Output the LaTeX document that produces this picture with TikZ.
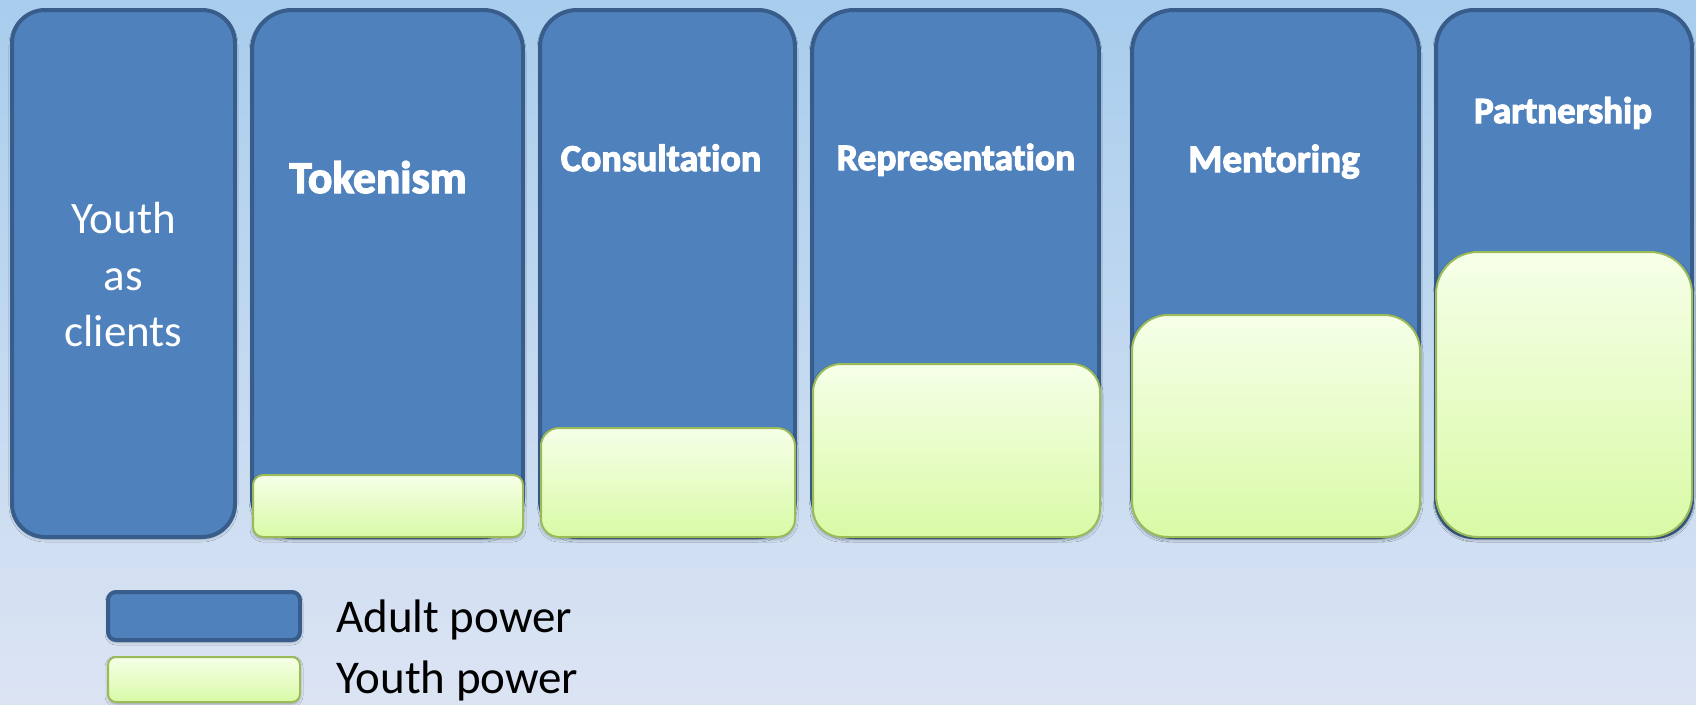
\documentclass[tikz,border=0pt]{standalone}
\usepackage{fontspec}
\setmainfont{Carlito}[Ligatures=NoCommon]
\newfontfamily\titlefont{Carlito}[Ligatures=NoCommon,BoldFeatures={FakeBold=3}]
\usetikzlibrary{shadows.blur}

\definecolor{adultblue}{RGB}{79,129,189}
\definecolor{adultedge}{RGB}{56,93,138}
\definecolor{youthtop}{RGB}{246,255,232}
\definecolor{youthbot}{RGB}{217,250,166}
\definecolor{youthedge}{RGB}{155,187,89}
\definecolor{bgtop}{RGB}{168,205,237}
\definecolor{bgmid}{RGB}{203,216,240}
\definecolor{bgbot}{RGB}{220,228,243}

\begin{document}
\begin{tikzpicture}[x=1pt,y=1pt,
    adult/.style={draw=adultedge,line width=4pt,fill=adultblue,anchor=north west,inner sep=0pt,
        blur shadow={shadow xshift=0pt,shadow yshift=-2pt,shadow blur radius=3pt,shadow opacity=30}},
    youth/.style={draw=youthedge,line width=2pt,top color=youthtop,bottom color=youthbot,anchor=south west,inner sep=0pt,
        blur shadow={shadow xshift=0pt,shadow yshift=-2pt,shadow blur radius=3pt,shadow opacity=30}},
    title/.style={text=white,anchor=base,inner sep=0pt},
    legendtext/.style={text=black,anchor=base west,inner sep=0pt,font=\fontsize{47}{56}\selectfont}]
        \useasboundingbox (0,0) rectangle (1696,-704);
        \shade[top color=bgtop,middle color=bgmid,bottom color=bgbot] (0,0) rectangle (1696,-704);
        % adult power columns
        \node[adult,minimum width=223,minimum height=527,rounded corners=33] (clients) at (10,-8) {};
        \node[adult,minimum width=271,minimum height=527,rounded corners=40] (tokenism) at (250,-8) {};
        \node[adult,minimum width=255,minimum height=527,rounded corners=37] (consultation) at (538,-8) {};
        \node[adult,minimum width=287,minimum height=527,rounded corners=42] (representation) at (810,-8) {};
        \node[adult,minimum width=287,minimum height=527,rounded corners=42] (mentoring) at (1130,-8) {};
        \node[adult,minimum width=256,minimum height=527,rounded corners=38] (partnership) at (1434,-8) {};
        % youth power parts
        \node[youth,minimum width=270,minimum height=62,rounded corners=10] (tokenismY) at (252,-538) {};
        \node[youth,minimum width=254,minimum height=109,rounded corners=18] (consultationY) at (540,-538) {};
        \node[youth,minimum width=287,minimum height=173,rounded corners=28] (representationY) at (812,-538) {};
        \node[youth,minimum width=288,minimum height=222,rounded corners=36] (mentoringY) at (1131,-538) {};
        \node[youth,minimum width=256,minimum height=285,rounded corners=42] (partnershipY) at (1435,-538) {};
        % labels
        \node[text=white,align=center,font=\fontsize{45}{56.5}\selectfont] (clientsL) at (123.5,-275) {Youth\\as\\clients};
        \node[title,font=\fontsize{45.5}{50}\titlefont\bfseries] (tokenismL) at (378,-193) {Tokenism};
        \node[title,font=\fontsize{38}{44}\titlefont\bfseries] (consultationL) at (661,-171) {Consultation};
        \node[title,font=\fontsize{37.5}{44}\titlefont\bfseries] (representationL) at (956,-170) {Representation};
        \node[title,font=\fontsize{39}{44}\titlefont\bfseries] (mentoringL) at (1274,-172) {Mentoring};
        \node[title,font=\fontsize{37}{44}\titlefont\bfseries] (partnershipL) at (1563,-123) {Partnership};
        % legend
        \node[adult,minimum width=192,minimum height=48,rounded corners=8] (adultkey) at (106,-590) {};
        \node[youth,anchor=north west,minimum width=192,minimum height=45,rounded corners=8] (youthkey) at (107,-656) {};
        \node[legendtext] (adultkeyL) at (336,-632) {Adult power};
        \node[legendtext] (youthkeyL) at (336,-693) {Youth power};
\end{tikzpicture}
\end{document}
